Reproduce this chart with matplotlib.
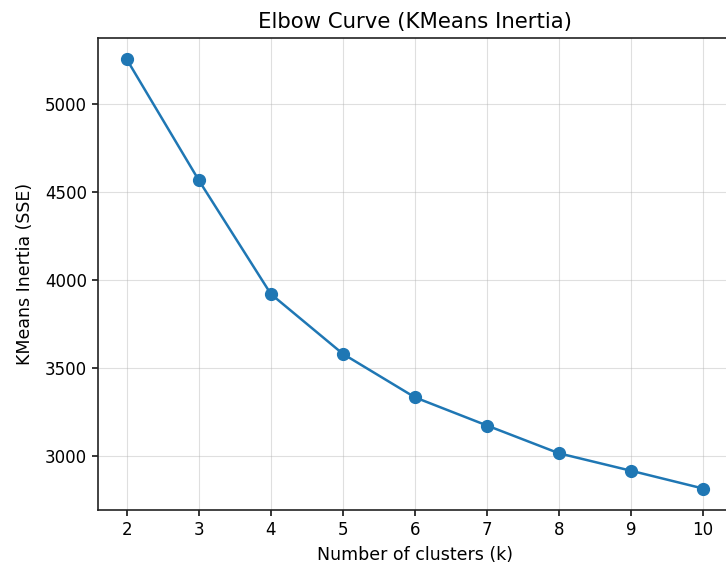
import matplotlib
matplotlib.use("Agg")
import matplotlib.pyplot as plt

k_values = [2, 3, 4, 5, 6, 7, 8, 9, 10]
inertia = [5251, 4564, 3918, 3578, 3331, 3171, 3013, 2914, 2813]

W, H = 726, 567
fig = plt.figure(figsize=(W / 100, H / 100), dpi=100)
left, right, top, bottom = 98, 732, 38, 510
ax = fig.add_axes([left / W, 1 - bottom / H, (right - left) / W, (bottom - top) / H])
ax.plot(k_values, inertia, marker='o', markersize=8.5, linewidth=1.8, color='#1f77b4')
ax.set_title("Elbow Curve (KMeans Inertia)", fontsize=15.3, pad=7)
ax.set_xlabel("Number of clusters (k)", fontsize=12.5, labelpad=5)
ax.set_ylabel("KMeans Inertia (SSE)", fontsize=12.5, labelpad=8)
ax.tick_params(labelsize=12, width=1.1, length=4.5)
for s in ax.spines.values():
    s.set_linewidth(1.2)
    s.set_color('#222222')
ax.set_xticks(k_values)
ax.grid(True, alpha=0.4)
fig.savefig("out.png", dpi=100)
